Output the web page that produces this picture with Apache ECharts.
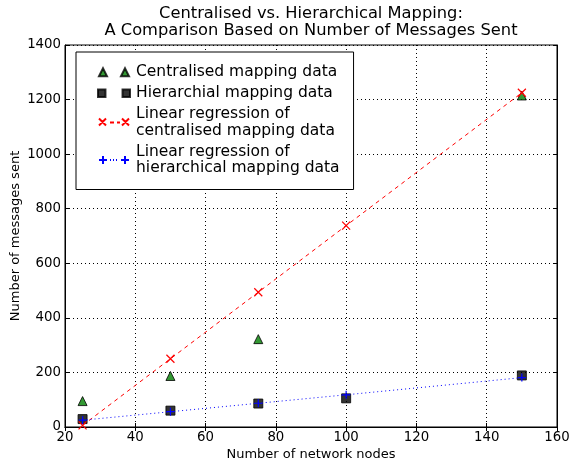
<!DOCTYPE html>
<html>
<head>
<meta charset="utf-8">
<script src="https://cdn.jsdelivr.net/npm/echarts@6/dist/echarts.min.js"></script>
<style>
  html, body { margin: 0; padding: 0; background: #fff; }
  #chart { width: 572px; height: 461px; }
</style>
</head>
<body>
<div id="chart"></div>
<script>
const nodes = [25, 50, 75, 100, 150]
const centralised = [95, 187, 322, 893, 1215]
const hierarchical = [29, 60, 86, 105, 189]
const centralisedFit = [6, 250, 494, 738, 1225]
const hierarchicalFit = [25, 56, 87, 118, 181]
const xTicks = [20, 40, 60, 80, 100, 120, 140, 160]
const yTicks = [0, 200, 400, 600, 800, 1000, 1200, 1400]

const font = 'DejaVu Sans'
const pairs = (ys) => nodes.map((x, i) => [x, ys[i]])

const names = [
  'Centralised mapping data',
  'Hierarchial mapping data',
  'Linear regression of centralised mapping data',
  'Linear regression of hierarchical mapping data'
]
const legendText = {}
legendText[names[2]] = 'Linear regression of\ncentralised mapping data'
legendText[names[3]] = 'Linear regression of\nhierarchical mapping data'

const xSym = 'path://M0,0L10,10M10,0L0,10'
const plusSym = 'path://M5,0L5,10M0,5L10,5'

let myChart = echarts.init(document.getElementById('chart'))

let tickAxis = {
  axisLine: { show: true, lineStyle: { color: '#000', width: 1 } },
  axisTick: { show: true, inside: true, length: 4, lineStyle: { color: '#000' } },
  axisLabel: { show: false },
  splitLine: { show: false }
}

let option = {
  animation: false,
  backgroundColor: '#fff',
  title: {
    text: 'Centralised vs. Hierarchical Mapping:\nA Comparison Based on Number of Messages Sent',
    left: 311,
    top: 5,
    padding: 0,
    textAlign: 'center',
    textStyle: { fontFamily: font, fontSize: 16.3, fontWeight: 'normal', color: '#000', lineHeight: 17.5 }
  },
  grid: {
    left: 65, right: 15, top: 45, bottom: 34,
    outerBoundsMode: 'none', containLabel: false,
    show: true, borderColor: '#000', borderWidth: 1
  },
  legend: {
    left: 76, top: 52,
    z: 10,
    orient: 'vertical',
    backgroundColor: '#fff',
    borderColor: '#000',
    borderWidth: 1,
    padding: [12, 14, 13, 21],
    itemGap: 4.5,
    itemWidth: 32,
    itemHeight: 8,
    textStyle: { fontFamily: font, fontSize: 15.5, color: '#000', lineHeight: 16.5, padding: [0, 0, 0, 1] },
    formatter: (n) => legendText[n] || n,
    data: [
      { name: names[0], icon: 'path://M0,8L4,0L8,8Z M22,8L26,0L30,8Z' },
      { name: names[1], icon: 'path://M0,0h7v7h-7z M23,0h7v7h-7z' },
      { name: names[2], icon: 'path://M0,0L7,7M7,0L0,7M23,0L30,7M30,0L23,7M11,4L15,4M18,4L21,4M0,8M30,8' },
      { name: names[3], icon: 'path://M4,0L4,8M0,4L8,4M26,0L26,8M22,4L30,4M11,4L12,4M14,4L15,4M17,4L18,4' }
    ]
  },
  xAxis: [{
    type: 'value', min: 20, max: 160, interval: 20,
    name: 'Number of network nodes', nameLocation: 'middle', nameGap: 21,
    nameMoveOverlap: false,
    nameTextStyle: { fontFamily: font, fontSize: 13, color: '#000' },
    axisLine: { show: true, lineStyle: { color: '#000' } },
    axisTick: { show: true, inside: true, length: 4, lineStyle: { color: '#000' } },
    axisLabel: { fontFamily: font, fontSize: 13.3, color: '#000', margin: 4 },
    splitLine: { show: true, lineStyle: { color: '#000', type: [1, 3], width: 1 } }
  }, Object.assign({ type: 'value', min: 20, max: 160, interval: 20, position: 'top' }, tickAxis)],
  yAxis: [{
    type: 'value', min: 0, max: 1400, interval: 200,
    name: 'Number of messages sent', nameLocation: 'middle', nameGap: 43,
    nameMoveOverlap: false,
    nameTextStyle: { fontFamily: font, fontSize: 13, color: '#000' },
    axisLine: { show: true, lineStyle: { color: '#000' } },
    axisTick: { show: true, inside: true, length: 4, lineStyle: { color: '#000' } },
    axisLabel: { fontFamily: font, fontSize: 13.3, color: '#000', margin: 4, formatter: (v) => String(v) },
    splitLine: { show: true, lineStyle: { color: '#000', type: [1, 3], width: 1 } }
  }, Object.assign({ type: 'value', min: 0, max: 1400, interval: 200, position: 'right' }, tickAxis)],
  series: [
    {
      name: names[2], type: 'line', data: pairs(centralisedFit),
      symbol: xSym, symbolSize: 8, z: 3,
      lineStyle: { color: '#ff0000', width: 1, type: [4, 4] },
      itemStyle: { color: '#ff0000', borderColor: '#ff0000', borderWidth: 1.2 }
    },
    {
      name: names[3], type: 'line', data: pairs(hierarchicalFit),
      symbol: plusSym, symbolSize: 8, z: 4,
      lineStyle: { color: '#0000ff', width: 1, type: [1, 3] },
      itemStyle: { color: '#0000ff', borderColor: '#0000ff', borderWidth: 1.2 }
    },
    {
      name: names[0], type: 'scatter', data: pairs(centralised),
      symbol: 'triangle', symbolSize: 9, z: 2,
      itemStyle: { color: '#008000', borderColor: '#000', borderWidth: 1 }
    },
    {
      name: names[1], type: 'scatter', data: pairs(hierarchical),
      symbol: 'rect', symbolSize: 9, z: 2,
      itemStyle: { color: '#000', borderColor: '#000', borderWidth: 1 }
    }
  ]
}
myChart.setOption(option)
</script>
</body>
</html>
